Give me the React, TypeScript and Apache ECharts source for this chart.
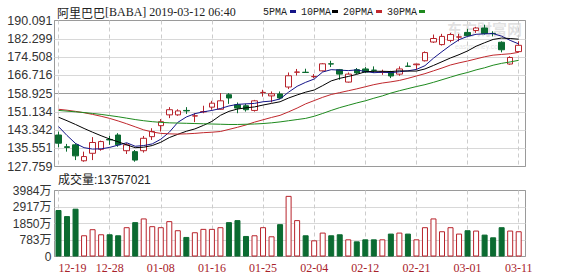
import React, { useEffect, useRef } from 'react';
import * as echarts from 'echarts';

const dates = [
  '12-19', '12-20', '12-21', '12-24', '12-26', '12-27', '12-28', '12-31',
  '01-02', '01-03', '01-04', '01-07', '01-08', '01-09', '01-10', '01-11', '01-14', '01-15', '01-16', '01-17', '01-18',
  '01-22', '01-23', '01-24', '01-25', '01-28', '01-29', '01-30', '01-31',
  '02-01', '02-04', '02-05', '02-06', '02-07', '02-08', '02-11', '02-12', '02-13', '02-14', '02-15',
  '02-19', '02-20', '02-21', '02-22', '02-25', '02-26', '02-27', '02-28',
  '03-01', '03-04', '03-05', '03-06', '03-07', '03-08', '03-11',
];

// [open, close, low, high]
const candles = [
  [141.2, 137.7, 136.0, 142.7], [136.2, 135.9, 134.1, 137.4], [137.0, 132.3, 130.5, 137.7],
  [130.2, 132.0, 129.8, 134.1], [133.4, 138.0, 130.5, 140.3], [135.1, 138.4, 134.5, 138.8],
  [139.3, 139.1, 137.0, 140.8], [141.2, 137.0, 136.2, 142.0], [134.5, 137.0, 133.1, 137.7],
  [134.1, 130.5, 129.8, 134.8], [134.5, 139.8, 133.7, 140.8], [140.5, 142.7, 139.1, 144.1],
  [145.2, 146.9, 142.7, 148.0], [149.8, 152.0, 148.4, 153.1], [149.8, 151.5, 149.4, 152.2],
  [151.7, 151.5, 150.2, 153.1], [149.3, 149.4, 146.7, 150.5], [151.1, 151.2, 150.5, 153.7],
  [153.1, 154.8, 152.0, 155.8], [152.2, 155.8, 152.0, 159.1], [158.4, 157.0, 154.5, 159.1],
  [154.1, 152.7, 150.5, 155.1], [153.7, 152.0, 151.2, 154.5], [151.7, 155.8, 151.2, 156.2],
  [159.3, 159.4, 157.6, 160.5], [157.9, 158.8, 155.1, 159.8], [158.7, 157.0, 156.5, 159.8],
  [161.7, 166.5, 160.8, 167.9], [168.0, 168.1, 166.6, 169.4], [168.0, 167.9, 167.9, 169.5],
  [166.1, 166.2, 165.5, 167.2], [168.6, 171.6, 168.3, 171.9], [171.6, 171.5, 170.2, 172.9],
  [169.1, 167.2, 164.8, 169.4], [163.8, 167.2, 163.6, 167.9], [169.1, 167.7, 167.2, 169.8],
  [169.4, 168.1, 167.7, 170.2], [168.9, 168.8, 167.7, 170.5], [168.0, 168.1, 166.9, 169.1],
  [168.3, 166.4, 165.5, 168.6], [167.2, 169.4, 166.5, 170.5], [170.6, 170.5, 170.5, 172.2],
  [171.2, 171.5, 169.1, 171.6], [172.9, 176.4, 172.6, 176.9], [180.9, 182.4, 180.5, 184.1],
  [179.8, 183.3, 179.4, 184.4], [181.6, 184.1, 180.8, 184.8], [183.0, 183.1, 181.2, 184.4],
  [185.0, 183.6, 183.3, 186.5], [185.8, 186.9, 184.8, 187.4], [186.9, 184.5, 184.1, 188.3],
  [184.6, 184.5, 183.3, 185.5], [180.8, 177.6, 176.5, 181.2], [171.5, 174.3, 171.2, 174.8],
  [176.8, 179.5, 176.5, 181.2],
];

const ma5 = [
  144.8, 141.0, 137.6, 135.8, 135.2, 135.3, 135.9, 136.9, 137.9, 136.4,
  136.7, 137.4, 139.4, 142.4, 146.6, 148.9, 150.3, 151.1, 151.7, 152.5,
  153.6, 154.3, 154.5, 154.7, 155.4, 155.7, 156.6, 159.5, 162.0, 163.7,
  165.1, 168.1, 169.1, 168.9, 168.7, 169.0, 168.3, 167.8, 168.0, 167.8,
  168.2, 168.6, 169.2, 170.8, 174.0, 176.8, 179.5, 181.9, 183.3, 184.2,
  184.4, 184.5, 183.4, 181.6, 180.1,
];
const ma10 = [
  148.8, 147.3, 145.7, 144.0, 142.4, 140.9, 139.5, 138.3, 137.0, 135.8,
  136.0, 136.7, 138.1, 140.1, 141.5, 142.8, 143.8, 145.3, 147.0, 149.6,
  151.3, 152.3, 152.8, 153.2, 154.0, 154.7, 155.4, 157.0, 158.3, 159.5,
  160.4, 162.3, 164.3, 165.4, 166.2, 167.1, 168.2, 168.4, 168.4, 168.3,
  168.6, 168.5, 168.5, 169.4, 170.9, 172.5, 174.1, 175.5, 177.1, 179.1,
  180.6, 182.0, 182.6, 182.4, 182.1,
];
const ma20 = [
  152.2, 151.8, 151.3, 150.7, 150.0, 149.2, 148.3, 147.2, 146.0, 144.7,
  143.4, 142.5, 141.9, 141.7, 141.6, 141.7, 141.9, 142.2, 142.4, 142.7,
  143.6, 144.5, 145.5, 146.7, 147.7, 148.7, 149.6, 151.1, 152.7, 154.5,
  155.9, 157.3, 158.5, 159.3, 160.1, 160.9, 161.8, 162.7, 163.4, 163.9,
  164.5, 165.4, 166.4, 167.4, 168.6, 169.8, 171.1, 172.0, 172.8, 173.7,
  174.6, 175.3, 175.6, 175.9, 176.5,
];
const ma30 = [
  151.7, 151.4, 151.1, 150.8, 150.4, 150.0, 149.5, 149.0, 148.4, 147.8,
  147.3, 146.9, 146.6, 146.4, 146.3, 146.2, 146.1, 146.0, 145.9, 145.8,
  145.7, 145.7, 145.8, 145.9, 146.1, 146.4, 146.8, 147.3, 147.8, 148.3,
  149.2, 150.4, 151.7, 152.9, 153.9, 154.9, 155.8, 156.9, 157.9, 159.1,
  160.1, 161.0, 161.9, 162.7, 163.7, 164.8, 165.9, 167.0, 167.9, 169.0,
  169.9, 171.0, 171.8, 172.4, 173.1,
];

// volume in 万
const volumes = [
  2806, 2440, 2887, 1281, 1647, 1342, 1342, 1281, 1769, 2074,
  2298, 1830, 1769, 2135, 1586, 1180, 1464, 1668, 1668, 1769,
  2074, 2196, 1240, 1281, 1769, 1220, 1952, 3660, 2196, 1281,
  976, 1444, 1281, 1342, 1037, 915, 1037, 1037, 1037, 1383,
  1444, 1383, 1037, 1769, 2298, 1525, 1769, 1383, 1586, 1566,
  1322, 1159, 1769, 1566, 1525,
];

const priceTicks = ['127.759', '135.551', '143.342', '151.134', '158.925', '166.716', '174.508', '182.299', '190.091'];
const PRICE_MIN = 127.759;
const PRICE_MAX = 190.091;
const PRICE_STEP = 7.7915;
const volTicks = ['0', '783万', '1850万', '2917万', '3984万'];
const VOL_MAX = 3984;

const titleName = '阿里巴巴';
const titleInfo = '[BABA] 2019-03-12 06:40';
const volTitle = '成交量:13757021';
const maNames = ['5PMA', '10PMA', '20PMA', '30PMA'];
const watermark = '东方财富网';
const watermarkSub = 'eastmoney.com';

const UP = '#b8232b';
const DOWN = '#0b6b31';
const MA_COLORS = ['#141488', '#000000', '#c0282d', '#1e8a1e'];
const BORDER = '#9a9a9a';
const GRIDC = '#d8d8d8';
const VGRID = '#cccccc';

const BL = 54.5;
const BW = 471;
const DL = 58.5;
const DW = 460.2;
const KT = 20.5;
const KH = 146;
const VT = 190.5;
const VH = 66;

function buildOption() {
  const kSplitColors = priceTicks.map((_, i) => (i === 0 || i === 4 || i === priceTicks.length - 1 ? BORDER : GRIDC));
  const vSplitColors = volTicks.map((_, i) => (i === 0 || i === volTicks.length - 1 ? BORDER : GRIDC));
  const volData = volumes.map((v, i) => {
    const up = candles[i][1] >= candles[i][0];
    return {
      value: v,
      itemStyle: up
        ? { color: '#ffffff', borderColor: UP, borderWidth: 1 }
        : { color: DOWN, borderColor: DOWN, borderWidth: 1 },
    };
  });
  const mas = [ma5, ma10, ma20, ma30];
  const legendX = [263, 301, 343, 387];
  const markX = [290, 332, 376, 419];

  const graphic: any[] = [
    {
      type: 'text', x: 57, y: 12,
      style: { text: titleName, fontFamily: 'Noto Sans CJK SC', fontSize: 12, fill: '#222', verticalAlign: 'middle' },
    },
    {
      type: 'text', x: 105, y: 12,
      style: { text: titleInfo, fontFamily: 'Liberation Serif', fontSize: 12, fill: '#222', verticalAlign: 'middle' },
    },
    {
      type: 'text', x: 58, y: 180,
      style: { text: volTitle, fontFamily: 'Liberation Sans, Noto Sans CJK SC', fontSize: 12, fill: '#222', verticalAlign: 'middle' },
    },
    {
      type: 'text', x: 447, y: 28, z: 0,
      style: { text: watermark, fontFamily: 'Noto Sans CJK SC', fontWeight: 'bold', fontSize: 15, fill: 'rgba(170,170,170,0.35)', verticalAlign: 'middle' },
    },
    {
      type: 'text', x: 455, y: 46, z: 0,
      style: { text: watermarkSub, fontFamily: 'Liberation Sans', fontSize: 7, fill: 'rgba(170,170,170,0.35)', verticalAlign: 'middle' },
    },
  ];
  maNames.forEach((n, i) => {
    graphic.push({
      type: 'text', x: legendX[i], y: 12,
      style: { text: n, fontFamily: 'Liberation Mono', fontSize: 10, fill: '#222', verticalAlign: 'middle' },
    });
    graphic.push({
      type: 'rect', shape: { x: markX[i], y: 10, width: 6, height: 3 },
      style: { fill: MA_COLORS[i] },
    });
  });

  return {
    animation: false,
    backgroundColor: '#ffffff',
    grid: [
      { left: BL, top: KT, width: BW, height: KH, show: true, borderColor: BORDER, borderWidth: 1, backgroundColor: 'transparent' },
      { left: DL, top: KT, width: DW, height: KH },
      { left: BL, top: VT, width: BW, height: VH, show: true, borderColor: BORDER, borderWidth: 1, backgroundColor: 'transparent' },
      { left: DL, top: VT, width: DW, height: VH },
    ],
    xAxis: [
      { type: 'value', gridIndex: 0, min: 0, max: 1, show: false },
      {
        type: 'category', gridIndex: 1, data: dates, boundaryGap: false,
        axisLine: { show: false }, axisTick: { show: false, interval: 5 }, axisLabel: { show: false, interval: 5 },
        splitLine: { show: true, interval: 5, lineStyle: { color: VGRID, type: [4, 3], width: 1 } },
      },
      { type: 'value', gridIndex: 2, min: 0, max: 1, show: false },
      {
        type: 'category', gridIndex: 3, data: dates, boundaryGap: false,
        axisLine: { show: false }, axisTick: { show: false, interval: 5 },
        axisLabel: {
          show: true, interval: 5, color: '#a8222a', fontFamily: 'Liberation Serif', fontSize: 12, margin: 5,
          alignMinLabel: 'left',
        },
        splitLine: { show: true, interval: 5, lineStyle: { color: VGRID, type: [4, 3], width: 1 } },
      },
    ],
    yAxis: [
      {
        type: 'value', gridIndex: 0, min: PRICE_MIN, max: PRICE_MAX, interval: PRICE_STEP,
        axisLine: { show: false }, axisTick: { show: false },
        axisLabel: {
          color: '#333', fontFamily: 'Liberation Sans', fontSize: 12.5, margin: 2,
          formatter: (v: number) => priceTicks[Math.round((v - PRICE_MIN) / PRICE_STEP)] ?? '',
        },
        splitLine: { show: true, lineStyle: { color: kSplitColors, width: 1 } },
      },
      { type: 'value', gridIndex: 1, min: PRICE_MIN, max: PRICE_MAX, show: false },
      {
        type: 'value', gridIndex: 2, min: 0, max: volTicks.length - 1, interval: 1,
        axisLine: { show: false }, axisTick: { show: false },
        axisLabel: {
          color: '#333', fontFamily: 'Liberation Sans, Noto Sans CJK SC', fontSize: 12, margin: 3,
          formatter: (v: number) => volTicks[Math.round(v)] ?? '',
        },
        splitLine: { show: true, lineStyle: { color: vSplitColors, width: 1 } },
      },
      { type: 'value', gridIndex: 3, min: 0, max: VOL_MAX, show: false },
    ],
    series: [
      {
        type: 'candlestick', xAxisIndex: 1, yAxisIndex: 1, data: candles, barWidth: 6, clip: false,
        itemStyle: { color: '#ffffff', color0: DOWN, borderColor: UP, borderColor0: DOWN, borderWidth: 1 },
        z: 2,
      },
      ...mas.map((d, i) => ({
        type: 'line', xAxisIndex: 1, yAxisIndex: 1, data: d, symbol: 'none', showSymbol: false,
        lineStyle: { color: MA_COLORS[i], width: 1 }, itemStyle: { color: MA_COLORS[i] }, z: 3, clip: false,
      })),
      {
        type: 'bar', xAxisIndex: 3, yAxisIndex: 3, data: volData, barWidth: 6, clip: false,
      },
    ],
    graphic,
  };
}

export default function App() {
  const ref = useRef<HTMLDivElement>(null);
  useEffect(() => {
    if (!ref.current) return;
    const chart = echarts.init(ref.current, undefined, { renderer: 'svg' });
    chart.setOption(buildOption() as any);
    return () => chart.dispose();
  }, []);
  return (
    <div
      ref={ref}
      style={{ position: 'absolute', left: 0, top: 0, width: 578, height: 276, background: '#fff' }}
    />
  );
}
